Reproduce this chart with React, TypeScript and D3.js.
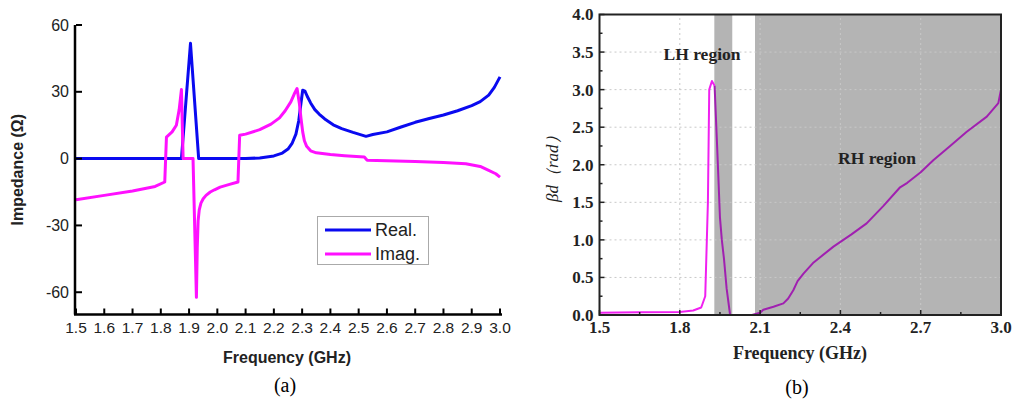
import React from "react";
import * as d3 from "d3";

// ---------- Data (a) ----------
const realData: [number, number][] = [
  [1.5, 0], [1.873, 0], [1.905, 51.8], [1.934, 0], [2.1, 0], [2.15, 0.3], [2.2, 1.2],
  [2.23, 2.5], [2.25, 4.3], [2.265, 7], [2.278, 11], [2.288, 17], [2.296, 25], [2.302, 30.7],
  [2.31, 30.3], [2.318, 28], [2.33, 25], [2.345, 22], [2.36, 20], [2.38, 17.8], [2.41, 15.2],
  [2.44, 13.5], [2.48, 11.8], [2.526, 10], [2.55, 10.8], [2.6, 12], [2.65, 14.2], [2.7, 16.3],
  [2.75, 18], [2.8, 19.6], [2.85, 21.5], [2.9, 23.8], [2.93, 25.6], [2.96, 28.5], [2.98, 32],
  [3.0, 36.7],
];
const imagData: [number, number][] = [
  [1.5, -18.5], [1.6, -16.5], [1.7, -14.5], [1.78, -12.5], [1.814, -10.5], [1.82, 9.7],
  [1.84, 12], [1.855, 15], [1.865, 22], [1.873, 31], [1.879, 0], [1.914, 0], [1.926, -62.3],
  [1.929, -40], [1.932, -28], [1.936, -23], [1.942, -20], [1.95, -18], [1.96, -16.5],
  [1.975, -15], [1.99, -14], [2.01, -12.8], [2.04, -11.7], [2.073, -10.5], [2.079, 10.5],
  [2.1, 11], [2.15, 13], [2.19, 15.5], [2.22, 18.3], [2.24, 21.5], [2.26, 25.5], [2.272, 29],
  [2.282, 31.5], [2.29, 25], [2.296, 18], [2.302, 12], [2.308, 8], [2.316, 5.5], [2.33, 3.5],
  [2.35, 2.6], [2.4, 1.8], [2.45, 1.3], [2.52, 0.7], [2.53, -0.75], [2.7, -1.3], [2.8, -1.7],
  [2.879, -2.3], [2.93, -3.5], [2.96, -5.3], [2.985, -6.8], [3.0, -8.3],
];
const aXTicks = [1.5, 1.6, 1.7, 1.8, 1.9, 2.0, 2.1, 2.2, 2.3, 2.4, 2.5, 2.6, 2.7, 2.8, 2.9, 3.0];
const aYTicks = [-60, -30, 0, 30, 60];
const legendLabels = ["Real.", "Imag."];

// ---------- Data (b) ----------
const betaRise: [number, number][] = [
  [1.5, 0.03], [1.65, 0.035], [1.8, 0.04], [1.85, 0.06], [1.88, 0.1], [1.895, 0.25],
  [1.905, 1.5], [1.91, 3.0], [1.92, 3.115], [1.93, 3.05],
];
const betaFall: [number, number][] = [
  [1.93, 3.05], [1.94, 2.2], [1.95, 1.3], [1.957, 1.0], [1.965, 0.75], [1.975, 0.35],
  [1.988, 0], [2.07, 0], [2.1, 0.03], [2.112, 0.07], [2.15, 0.11], [2.187, 0.155],
  [2.205, 0.22], [2.224, 0.33], [2.24, 0.45], [2.262, 0.55], [2.3, 0.7], [2.374, 0.91],
  [2.44, 1.07], [2.498, 1.22], [2.56, 1.45], [2.623, 1.7], [2.65, 1.76], [2.7, 1.9],
  [2.747, 2.06], [2.81, 2.25], [2.872, 2.44], [2.947, 2.64], [2.99, 2.82], [3.0, 3.0],
];
const bands: [number, number][] = [[1.929, 1.996], [2.081, 3.0]];
const bXTicks = [1.5, 1.8, 2.1, 2.4, 2.7, 3.0];
const bXMinor = [1.65, 1.95, 2.25, 2.55, 2.85];
const bYTicks = [0, 0.5, 1, 1.5, 2, 2.5, 3, 3.5, 4];
const bYMinor = [0.25, 0.75, 1.25, 1.75, 2.25, 2.75, 3.25, 3.75];

export default function App() {
  // Chart (a) scales
  const ax = d3.scaleLinear().domain([1.5, 3.0]).range([76, 500]);
  const ay = d3.scaleLinear().domain([-70, 60]).range([314.5, 25]);
  const aLine = d3.line<[number, number]>().x((d) => ax(d[0])).y((d) => ay(d[1]));

  // Chart (b) scales
  const bx = d3.scaleLinear().domain([1.5, 3.0]).range([599.5, 1001]);
  const by = d3.scaleLinear().domain([0, 4]).range([315, 14.5]);
  const bLine = d3.line<[number, number]>().x((d) => bx(d[0])).y((d) => by(d[1]));

  const sans = "Arial, 'Liberation Sans', sans-serif";
  const serif = "'Times New Roman', 'Liberation Serif', serif";

  return (
    <svg width={1012} height={404} style={{ position: "absolute", left: 0, top: 0, background: "#fff" }}>
      {/* ================= (a) ================= */}
      <g>
        <path d={aLine(realData)!} fill="none" stroke="#0a0af0" strokeWidth={3} strokeLinejoin="round" />
        <path d={aLine(imagData)!} fill="none" stroke="#ff10ff" strokeWidth={3} strokeLinejoin="round" />
        {/* axes */}
        <line x1={ax(1.5) - 1} x2={ax(1.5) - 1} y1={ay(60)} y2={ay(-70)} stroke="#000" strokeWidth={2.5} />
        <line x1={ax(1.5) - 2} x2={ax(3.0) + 2} y1={ay(-70)} y2={ay(-70)} stroke="#000" strokeWidth={2.5} />
        {aYTicks.map((t) => (
          <g key={"ay" + t}>
            <line x1={ax(1.5)} x2={ax(1.5) + 6} y1={ay(t)} y2={ay(t)} stroke="#000" strokeWidth={2} />
            <text x={ax(1.5) - 7} y={ay(t)} dy="0.35em" textAnchor="end" fontFamily={sans} fontSize={16} fill="#222">
              {t}
            </text>
          </g>
        ))}
        {aXTicks.map((t) => (
          <g key={"ax" + t}>
            <line x1={ax(t)} x2={ax(t)} y1={ay(-70)} y2={ay(-70) - 6} stroke="#000" strokeWidth={2} />
            <text x={ax(t)} y={ay(-70) + 18} textAnchor="middle" fontFamily={sans} fontSize={15.5} fill="#222">
              {t.toFixed(1)}
            </text>
          </g>
        ))}
        <text x={287} y={363} textAnchor="middle" fontFamily={sans} fontSize={16} fontWeight="bold" fill="#222">
          Frequency (GHz)
        </text>
        <text
          transform={`translate(23,${(ay(60) + ay(-70)) / 2}) rotate(-90)`}
          textAnchor="middle"
          fontFamily={sans}
          fontSize={16}
          fontWeight="bold"
          fill="#222"
        >
          Impedance (Ω)
        </text>
        {/* legend */}
        <rect x={317.5} y={216.5} width={111} height={48} fill="#fff" stroke="#aaa" strokeWidth={1} />
        {legendLabels.map((lab, i) => (
          <g key={lab}>
            <line x1={325} x2={371} y1={230 + i * 24} y2={230 + i * 24} stroke={i === 0 ? "#0a0af0" : "#ff10ff"} strokeWidth={3} />
            <text x={375} y={230 + i * 24} dy="0.36em" fontFamily={sans} fontSize={18} fill="#222">
              {lab}
            </text>
          </g>
        ))}
        <text x={285} y={392} textAnchor="middle" fontFamily={serif} fontSize={20} fill="#000">
          (a)
        </text>
      </g>

      {/* ================= (b) ================= */}
      <g>
        {bands.map((b, i) => (
          <rect key={"band" + i} x={bx(b[0])} y={by(4)} width={bx(b[1]) - bx(b[0])} height={by(0) - by(4)} fill="#b4b4b4" />
        ))}
        {/* grid */}
        {bXTicks.slice(1, -1).map((t) => (
          <line key={"gx" + t} x1={bx(t)} x2={bx(t)} y1={by(0)} y2={by(4)} stroke="#c8c8c8" strokeWidth={1} strokeDasharray="2,3" />
        ))}
        {bYTicks.slice(1, -1).map((t) => (
          <line key={"gy" + t} x1={bx(1.5)} x2={bx(3.0)} y1={by(t)} y2={by(t)} stroke="#c8c8c8" strokeWidth={1} strokeDasharray="2,3" />
        ))}
        <path d={bLine(betaRise)!} fill="none" stroke="#f020f0" strokeWidth={2} strokeLinejoin="round" />
        <path d={bLine(betaFall)!} fill="none" stroke="#a020b0" strokeWidth={2} strokeLinejoin="round" />
        {/* frame */}
        <rect x={bx(1.5)} y={by(4)} width={bx(3.0) - bx(1.5)} height={by(0) - by(4)} fill="none" stroke="#222" strokeWidth={2} />
        {bYTicks.map((t) => (
          <g key={"by" + t}>
            <line x1={bx(1.5)} x2={bx(1.5) + 5} y1={by(t)} y2={by(t)} stroke="#222" strokeWidth={1.5} />
            <text x={bx(1.5) - 6} y={by(t)} dy="0.35em" textAnchor="end" fontFamily={serif} fontSize={17} fontWeight="bold" fill="#222">
              {t.toFixed(1)}
            </text>
          </g>
        ))}
        {bYMinor.map((t) => (
          <line key={"bym" + t} x1={bx(1.5)} x2={bx(1.5) + 3} y1={by(t)} y2={by(t)} stroke="#222" strokeWidth={1.5} />
        ))}
        {bXTicks.map((t) => (
          <g key={"bx" + t}>
            <line x1={bx(t)} x2={bx(t)} y1={by(0)} y2={by(0) - 5} stroke="#222" strokeWidth={1.5} />
            <text x={bx(t)} y={by(0) + 18} textAnchor="middle" fontFamily={serif} fontSize={17} fontWeight="bold" fill="#222">
              {t.toFixed(1)}
            </text>
          </g>
        ))}
        {bXMinor.map((t) => (
          <line key={"bxm" + t} x1={bx(t)} x2={bx(t)} y1={by(0)} y2={by(0) - 3} stroke="#222" strokeWidth={1.5} />
        ))}
        <text x={800} y={359} textAnchor="middle" fontFamily={serif} fontSize={18} fontWeight="bold" fill="#222">
          Frequency (GHz)
        </text>
        <text
          transform={`translate(558,${(by(0) + by(4)) / 2}) rotate(-90)`}
          textAnchor="middle"
          fontFamily={serif}
          fontSize={17}
          fontStyle="italic"
          fill="#222"
        >
          βd（rad）
        </text>
        <text x={702} y={60} textAnchor="middle" fontFamily={serif} fontSize={17.5} fontWeight="bold" fill="#222">
          LH region
        </text>
        <text x={877} y={164} textAnchor="middle" fontFamily={serif} fontSize={17.5} fontWeight="bold" fill="#222">
          RH region
        </text>
        <text x={797} y={394} textAnchor="middle" fontFamily={serif} fontSize={20} fill="#000">
          (b)
        </text>
      </g>
    </svg>
  );
}
